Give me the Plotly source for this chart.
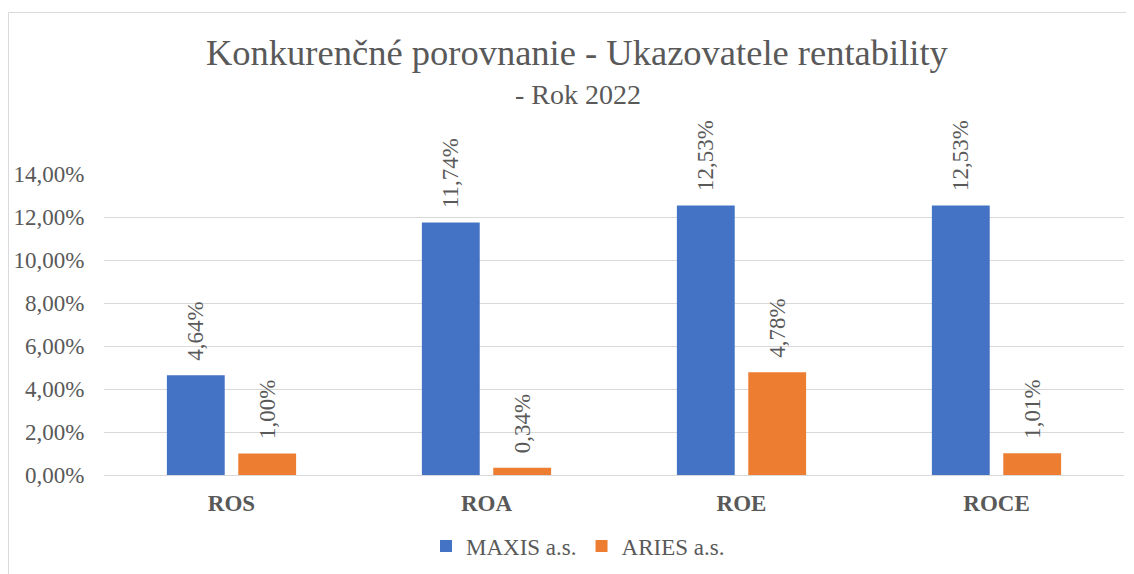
import plotly.graph_objects as go

categories = ["ROS", "ROA", "ROE", "ROCE"]
maxis = [0.0464, 0.1174, 0.1253, 0.1253]
aries = [0.0100, 0.0034, 0.0478, 0.0101]
series_names = ["MAXIS a.s.", "ARIES a.s."]
tick_vals = [0, 0.02, 0.04, 0.06, 0.08, 0.10, 0.12, 0.14]

FONT = "Liberation Serif, Times New Roman, serif"
GRAY = "#595959"
OFF = 8  # page body margin

fig = go.Figure()
for name, vals, col in [(series_names[0], maxis, "#4472C4"), (series_names[1], aries, "#ED7D31")]:
    fig.add_trace(go.Bar(
        x=categories, y=vals, name=name, marker_color=col,
        marker_line_width=0,
        texttemplate="\u00a0\u00a0%{y:.2%}", textposition="outside", textangle=-90,
        textfont=dict(family=FONT, size=23, color=GRAY),
        constraintext="none",
        cliponaxis=False,
    ))

W, H = 1134 - OFF, 574 - OFF
L = 104 - OFF
R = W - (1124 - OFF)
T = 174 - OFF
B = H - (475 - OFF)
pw, ph = W - L - R, H - T - B


def px(x):
    return (x - OFF - L) / pw


def py(y):
    return (H - B - (y - OFF)) / ph


fig.update_layout(
    width=W, height=H,
    margin=dict(l=L, r=R, t=T, b=B, autoexpand=False),
    paper_bgcolor="white", plot_bgcolor="white",
    separators=", ",
    barmode="group", bargap=0.44, bargroupgap=0.19,
    font=dict(family=FONT, color=GRAY),
    showlegend=True,
    legend=dict(orientation="h", xanchor="center", yanchor="middle",
                x=px(578), y=py(546),
                font=dict(family=FONT, size=23, color=GRAY),
                itemwidth=30, tracegroupgap=0),
    xaxis=dict(tickfont=dict(family=FONT, size=23, color=GRAY),
               ticks="outside", ticklen=7, tickcolor="rgba(0,0,0,0)",
               showgrid=False, showline=False, automargin=False,
               tickprefix="<b>", ticksuffix="</b>"),
    yaxis=dict(range=[0, 0.14], tickvals=tick_vals, tickformat=".2%",
               tickfont=dict(family=FONT, size=23, color=GRAY),
               gridcolor="#D9D9D9", gridwidth=1, zeroline=True,
               zerolinecolor="#D9D9D9", zerolinewidth=1, showline=False,
               automargin=False,
               ticks="outside", ticklen=14, tickcolor="rgba(0,0,0,0)"),
)

fig.add_annotation(text="Konkurenčné porovnanie - Ukazovatele rentability",
                   xref="paper", yref="paper", x=px(577), y=py(52),
                   showarrow=False, xanchor="center", yanchor="middle",
                   font=dict(family=FONT, size=36.5, color=GRAY))
fig.add_annotation(text="- Rok 2022",
                   xref="paper", yref="paper", x=px(578), y=py(94),
                   showarrow=False, xanchor="center", yanchor="middle",
                   font=dict(family=FONT, size=28, color=GRAY))

fig.add_shape(type="rect", xref="paper", yref="paper",
              x0=px(8.5), x1=px(1145),
              y0=py(590), y1=py(12.5),
              line=dict(color="#D9D9D9", width=1), fillcolor="rgba(0,0,0,0)", layer="below")

fig.write_html("out.html")
